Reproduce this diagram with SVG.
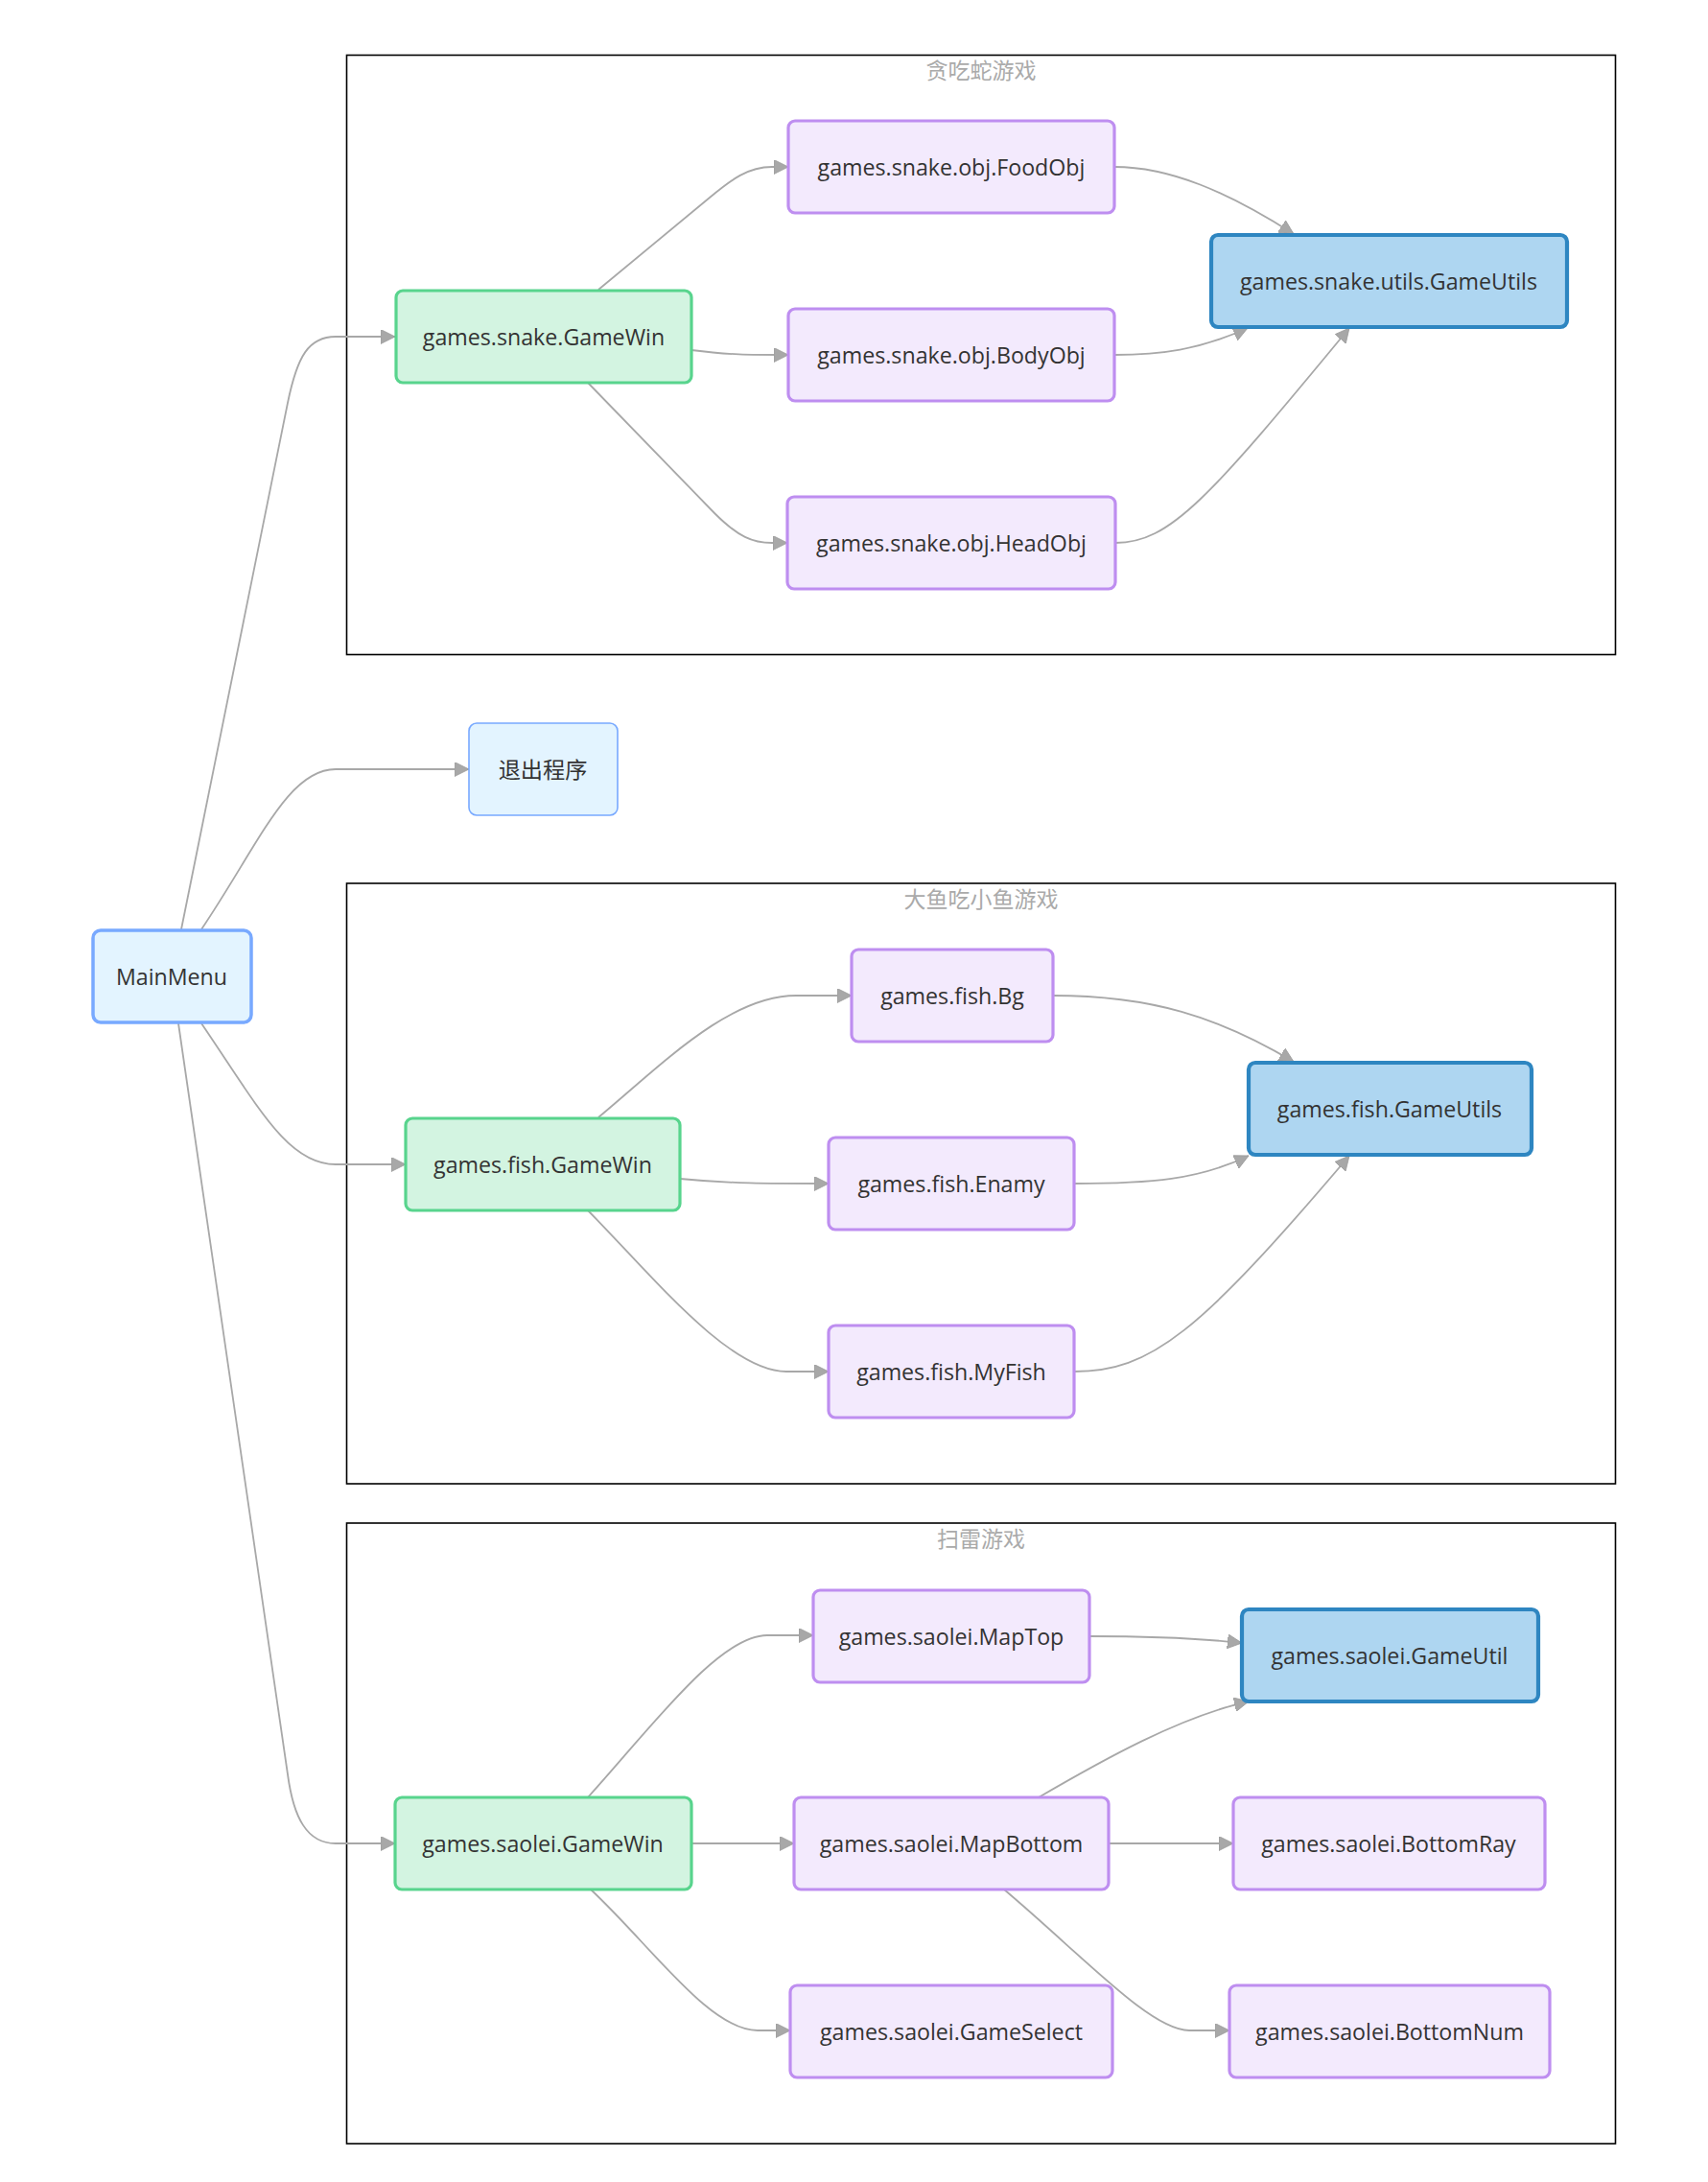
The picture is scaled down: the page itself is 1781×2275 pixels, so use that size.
<svg xmlns="http://www.w3.org/2000/svg" width="1781" height="2275" viewBox="0 0 1781 2275">
<defs>
<style>
.cluster{fill:#ffffff;stroke:#000;stroke-width:1.6}
.ctitle{font-family:"Open Sans","Noto Sans CJK SC",sans-serif;font-size:23px;fill:#aaaaaa;text-anchor:middle;dominant-baseline:central}
.lbl{font-family:"Open Sans","Noto Sans CJK SC",sans-serif;font-size:23.2px;fill:#333;text-anchor:middle;dominant-baseline:central}
.menu{fill:#e3f4ff;stroke:#78a9ff;stroke-width:3.5}
.exit{fill:#e3f4ff;stroke:#78a9ff;stroke-width:1.6}
.win{fill:#d3f4e1;stroke:#58d48d;stroke-width:3.2}
.obj{fill:#f3eafd;stroke:#be8ef0;stroke-width:3.2}
.util{fill:#aed6f1;stroke:#2e86c1;stroke-width:4.2}
.edge{fill:none;stroke:#a8a8a8;stroke-width:1.8}
</style>
<marker id="arr" viewBox="0 0 10 10" refX="10" refY="5" markerUnits="userSpaceOnUse" markerWidth="15" markerHeight="15" orient="auto">
<path d="M0 0 L10 5 L0 10 z" fill="#a8a8a8" stroke="#999" stroke-width="0.5"/>
</marker>
</defs>
<rect width="1781" height="2275" fill="#fff"/>

<g id="cluster-snake">
<rect class="cluster" x="361.5" y="57.5" width="1323" height="625"/>
<text class="ctitle" x="1023" y="73">贪吃蛇游戏</text>
</g>
<g id="cluster-fish">
<rect class="cluster" x="361.5" y="921" width="1323" height="626"/>
<text class="ctitle" x="1023" y="937">大鱼吃小鱼游戏</text>
</g>
<g id="cluster-saolei">
<rect class="cluster" x="361.5" y="1588" width="1323" height="647"/>
<text class="ctitle" x="1023" y="1604">扫雷游戏</text>
</g>

<g id="edges">
<path class="edge" marker-end="url(#arr)" d="M189 969 L300 420 C310 371 322 351 350 351 L412 351"/>
<path class="edge" marker-end="url(#arr)" d="M210 969 C270 880 300 802 350 802 L489 802"/>
<path class="edge" marker-end="url(#arr)" d="M210 1067 C270 1155 300 1214 350 1214 L423 1214"/>
<path class="edge" marker-end="url(#arr)" d="M186 1067 L300 1850 C306 1895 320 1922 350 1922 L412 1922"/>

<path class="edge" marker-end="url(#arr)" d="M624 302 L740 206 C763 187 780 174 805 174 L822 174"/>
<path class="edge" marker-end="url(#arr)" d="M721 365 C760 370 780 370 822 370"/>
<path class="edge" marker-end="url(#arr)" d="M613 399 L745 535 C770 560 785 566 805 566 L821 566"/>
<path class="edge" marker-end="url(#arr)" d="M1162 174 C1220 174 1280 200 1349 244"/>
<path class="edge" marker-end="url(#arr)" d="M1162 370 C1210 370 1250 365 1301 342"/>
<path class="edge" marker-end="url(#arr)" d="M1163 566 C1220 566 1260 520 1407 342"/>

<path class="edge" marker-end="url(#arr)" d="M624 1165 C690 1110 760 1038 830 1038 L888 1038"/>
<path class="edge" marker-end="url(#arr)" d="M709 1229 C760 1234 800 1234 864 1234"/>
<path class="edge" marker-end="url(#arr)" d="M613 1262 C680 1330 760 1430 820 1430 L864 1430"/>
<path class="edge" marker-end="url(#arr)" d="M1098 1038 C1200 1038 1270 1060 1349 1107"/>
<path class="edge" marker-end="url(#arr)" d="M1120 1234 C1200 1234 1250 1230 1302 1205"/>
<path class="edge" marker-end="url(#arr)" d="M1120 1430 C1200 1430 1250 1390 1407 1205"/>

<path class="edge" marker-end="url(#arr)" d="M613 1874 C680 1800 750 1705 800 1705 L848 1705"/>
<path class="edge" marker-end="url(#arr)" d="M721 1922 L828 1922"/>
<path class="edge" marker-end="url(#arr)" d="M616 1970 C680 2030 740 2117 790 2117 L824 2117"/>
<path class="edge" marker-end="url(#arr)" d="M1136 1706 C1200 1706 1250 1708 1295 1713"/>
<path class="edge" marker-end="url(#arr)" d="M1083 1874 C1150 1835 1230 1790 1302 1774"/>
<path class="edge" marker-end="url(#arr)" d="M1156 1922 L1286 1922"/>
<path class="edge" marker-end="url(#arr)" d="M1047 1970 C1130 2040 1200 2117 1240 2117 L1282 2117"/>
</g>

<g id="MainMenu"><rect class="menu" x="97" y="970" width="165" height="96" rx="8"/><text class="lbl" x="179" y="1018">MainMenu</text></g>
<g id="exit"><rect class="exit" x="489" y="754" width="155" height="96" rx="8"/><text class="lbl" x="566" y="802">退出程序</text></g>

<g id="snake-GameWin"><rect class="win" x="413" y="303" width="308" height="96" rx="7"/><text class="lbl" x="567" y="351">games.snake.GameWin</text></g>
<g id="snake-FoodObj"><rect class="obj" x="822" y="126" width="340" height="96" rx="7"/><text class="lbl" x="992" y="174">games.snake.obj.FoodObj</text></g>
<g id="snake-BodyObj"><rect class="obj" x="822" y="322" width="340" height="96" rx="7"/><text class="lbl" x="992" y="370">games.snake.obj.BodyObj</text></g>
<g id="snake-HeadObj"><rect class="obj" x="821" y="518" width="342" height="96" rx="7"/><text class="lbl" x="992" y="566">games.snake.obj.HeadObj</text></g>
<g id="snake-GameUtils"><rect class="util" x="1263" y="245" width="371" height="96" rx="7"/><text class="lbl" x="1448" y="293">games.snake.utils.GameUtils</text></g>

<g id="fish-GameWin"><rect class="win" x="423" y="1166" width="286" height="96" rx="7"/><text class="lbl" x="566" y="1214">games.fish.GameWin</text></g>
<g id="fish-Bg"><rect class="obj" x="888" y="990" width="210" height="96" rx="7"/><text class="lbl" x="993" y="1038">games.fish.Bg</text></g>
<g id="fish-Enamy"><rect class="obj" x="864" y="1186" width="256" height="96" rx="7"/><text class="lbl" x="992" y="1234">games.fish.Enamy</text></g>
<g id="fish-MyFish"><rect class="obj" x="864" y="1382" width="256" height="96" rx="7"/><text class="lbl" x="992" y="1430">games.fish.MyFish</text></g>
<g id="fish-GameUtils"><rect class="util" x="1302" y="1108" width="295" height="96" rx="7"/><text class="lbl" x="1449" y="1156">games.fish.GameUtils</text></g>

<g id="saolei-GameWin"><rect class="win" x="412" y="1874" width="309" height="96" rx="7"/><text class="lbl" x="566" y="1922">games.saolei.GameWin</text></g>
<g id="saolei-MapTop"><rect class="obj" x="848" y="1658" width="288" height="96" rx="7"/><text class="lbl" x="992" y="1706">games.saolei.MapTop</text></g>
<g id="saolei-MapBottom"><rect class="obj" x="828" y="1874" width="328" height="96" rx="7"/><text class="lbl" x="992" y="1922">games.saolei.MapBottom</text></g>
<g id="saolei-GameSelect"><rect class="obj" x="824" y="2070" width="336" height="96" rx="7"/><text class="lbl" x="992" y="2118">games.saolei.GameSelect</text></g>
<g id="saolei-GameUtil"><rect class="util" x="1295" y="1678" width="309" height="96" rx="7"/><text class="lbl" x="1449" y="1726">games.saolei.GameUtil</text></g>
<g id="saolei-BottomRay"><rect class="obj" x="1286" y="1874" width="325" height="96" rx="7"/><text class="lbl" x="1448" y="1922">games.saolei.BottomRay</text></g>
<g id="saolei-BottomNum"><rect class="obj" x="1282" y="2070" width="334" height="96" rx="7"/><text class="lbl" x="1449" y="2118">games.saolei.BottomNum</text></g>
</svg>
